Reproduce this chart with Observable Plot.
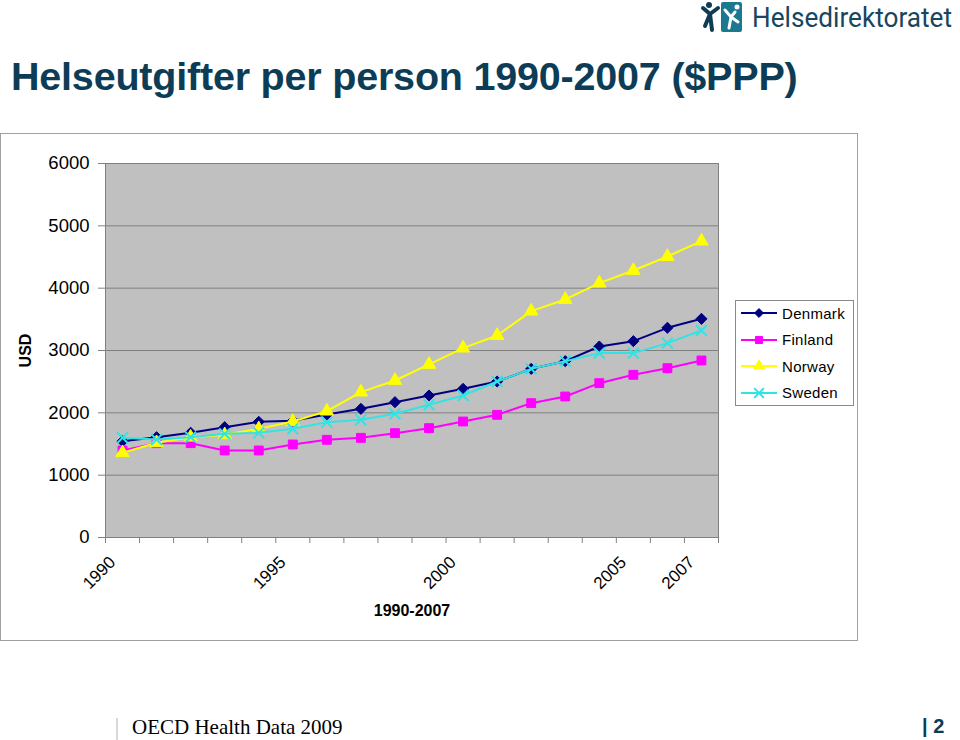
<!DOCTYPE html>
<html><head><meta charset="utf-8">
<script src="https://cdn.jsdelivr.net/npm/d3@7"></script>
<script src="https://cdn.jsdelivr.net/npm/@observablehq/plot@0.6"></script>
<style>
body{margin:0;background:#fff;}
#page{position:relative;width:960px;height:740px;overflow:hidden;font-family:"Liberation Sans",Arial,sans-serif;}
#title{position:absolute;left:11px;top:54px;font-size:39.5px;font-weight:bold;color:#0d3d56;white-space:nowrap;letter-spacing:-0.2px;}
#frame{position:absolute;left:0;top:133px;width:856px;height:506px;border:1px solid #a0a0a0;}
#chart{position:absolute;left:0;top:133px;}
#chart g[aria-label="x-axis label"] text,#chart g[aria-label="y-axis label"] text{font-weight:bold;font-size:16px;}
#legend{position:absolute;left:735px;top:300px;width:117px;height:104px;border:1px solid #8a8a8a;background:#fff;}
.lrow{position:absolute;left:4px;height:22px;display:flex;align-items:center;font-size:15px;color:#000;letter-spacing:0.3px;}
.lrow svg{margin-right:4px;}
#logo{position:absolute;left:700px;top:0;overflow:visible;}
#footer{position:absolute;left:0;top:700px;width:960px;height:40px;}
#src{position:absolute;left:132px;top:15px;font-family:"Liberation Serif","Times New Roman",serif;font-size:21px;color:#000;}
#bar{position:absolute;left:116px;top:18px;width:2px;height:22px;background:#d8d8d8;}
#pg{position:absolute;left:922px;top:15px;font-size:20px;font-weight:bold;color:#0d3d56;}
</style></head><body>
<div id="page">
  <div id="title">Helseutgifter per person 1990-2007 ($PPP)</div>
  <svg id="logo" width="258" height="38">
    <rect x="21" y="2" width="21" height="30" rx="2" fill="#1a7891"/>
    <path d="M25 10 L31 17 L35 12 M31 17 L29 28 M31 17 L38 22" stroke="#fff" stroke-width="3" fill="none" stroke-linecap="round"/>
    <circle cx="37" cy="7" r="2.5" fill="#fff"/>
    <path d="M3 8 L10 14 L18 8 M10 14 L12 30 M10 14 L5 26" stroke="#0e3c52" stroke-width="4" fill="none" stroke-linecap="round"/>
    <circle cx="9" cy="5" r="3" fill="#0e3c52"/>
    <text x="52" y="27" font-family="Roboto, 'Open Sans', sans-serif" font-size="27" fill="#17465e" textLength="200" lengthAdjust="spacingAndGlyphs">Helsedirektoratet</text>
  </svg>
  <div id="frame"></div>
  <div id="chart"></div>
  <div id="legend"></div>
  <div id="footer"><div id="bar"></div><div id="src">OECD Health Data 2009</div><div id="pg">| 2</div></div>
</div>
<script>
const years = [1990,1991,1992,1993,1994,1995,1996,1997,1998,1999,2000,2001,2002,2003,2004,2005,2006,2007];
const countries = ["Denmark","Finland","Norway","Sweden"];
const denmark = [1545,1609,1680,1770,1856,1872,1973,2064,2171,2278,2385,2503,2706,2829,3064,3150,3364,3508];
const finland = [1396,1513,1513,1396,1396,1492,1567,1599,1674,1754,1861,1968,2155,2262,2476,2610,2716,2840];
const norway  = [1360,1520,1609,1647,1743,1861,2027,2332,2519,2776,3038,3241,3631,3819,4081,4284,4508,4754];
const sweden  = [1599,1572,1609,1663,1679,1743,1850,1888,1984,2129,2278,2503,2706,2829,2958,2958,3118,3321];
const yTicks = [0,1000,2000,3000,4000,5000,6000];
const xTickLabels = [1990,1995,2000,2005,2007];
const colors = ["#000080","#ff00ff","#ffff00","#33e3e3"];
const symbols = ["diamond2","square","triangle","times"];

const seriesValues = [denmark, finland, norway, sweden];
const tables = countries.map((c,i)=>years.map((y,j)=>({country:c, year:y, value:seriesValues[i][j]})));
const boundaries = d3.range(years.length+1).map(i=>years[0]-0.5+i);

const marks = [
  Plot.frame({fill:"#c0c0c0"}),
  Plot.gridY(yTicks, {stroke:"#808080", strokeOpacity:1}),
  Plot.frame({stroke:"#808080"}),
  Plot.axisY(yTicks, {tickSize:7, tickPadding:9, stroke:"#808080", tickFormat:d=>String(d), label:"USD", labelAnchor:"center", labelOffset:86, labelArrow:"none", fontSize:18.5}),
  Plot.axisX(boundaries, {tickSize:6, stroke:"#808080", tickFormat:()=>"", label:null}),
  Plot.axisX(xTickLabels, {tickSize:0, tickPadding:22, dx:-10, tickRotate:-45, tickFormat:d=>String(d), label:"1990-2007", labelAnchor:"center", labelOffset:78, labelArrow:"none", fontSize:17}),
  Plot.ruleY([0], {stroke:"#808080"})
];
tables.forEach((t,i)=>{
  marks.push(Plot.line(t, {x:"year", y:"value", stroke:colors[i], strokeWidth:2}));
  if (symbols[i]==="times") marks.push(Plot.dot(t, {x:"year", y:"value", symbol:"times", r:5, stroke:colors[i], strokeWidth:2}));
  else marks.push(Plot.dot(t, {x:"year", y:"value", symbol:symbols[i], r:5, fill:colors[i], stroke:colors[i], strokeWidth:1}));
});

const chart = Plot.plot({
  width:730, height:507, marginLeft:105, marginRight:12, marginTop:30, marginBottom:103,
  x:{domain:[years[0]-0.5, years[years.length-1]+0.5]},
  y:{domain:[0,6000]},
  style:{fontFamily:"'Liberation Sans', Arial, sans-serif", fontSize:"17px", color:"#000", background:"transparent", overflow:"visible"},
  marks
});
document.getElementById("chart").appendChild(chart);

// legend
const leg = document.getElementById("legend");
const symMap = {diamond2:d3.symbolDiamond2, square:d3.symbolSquare, triangle:d3.symbolTriangle, times:d3.symbolTimes};
countries.forEach((c,i)=>{
  const row = document.createElement("div");
  row.className="lrow";
  row.style.top = (i*26.5 + 1) + "px";
  const size = Math.PI*(i===3?4.5:4)**2;
  const path = d3.symbol(symMap[symbols[i]], size)();
  const isTimes = symbols[i]==="times";
  row.innerHTML = `<svg width="38" height="20"><line x1="1" y1="10" x2="37" y2="10" stroke="${colors[i]}" stroke-width="2"/><path transform="translate(19,10)" d="${path}" fill="${isTimes?"none":colors[i]}" stroke="${colors[i]}" stroke-width="${isTimes?2:1}"/></svg><span>${c}</span>`;
  leg.appendChild(row);
});
</script>
</body></html>
